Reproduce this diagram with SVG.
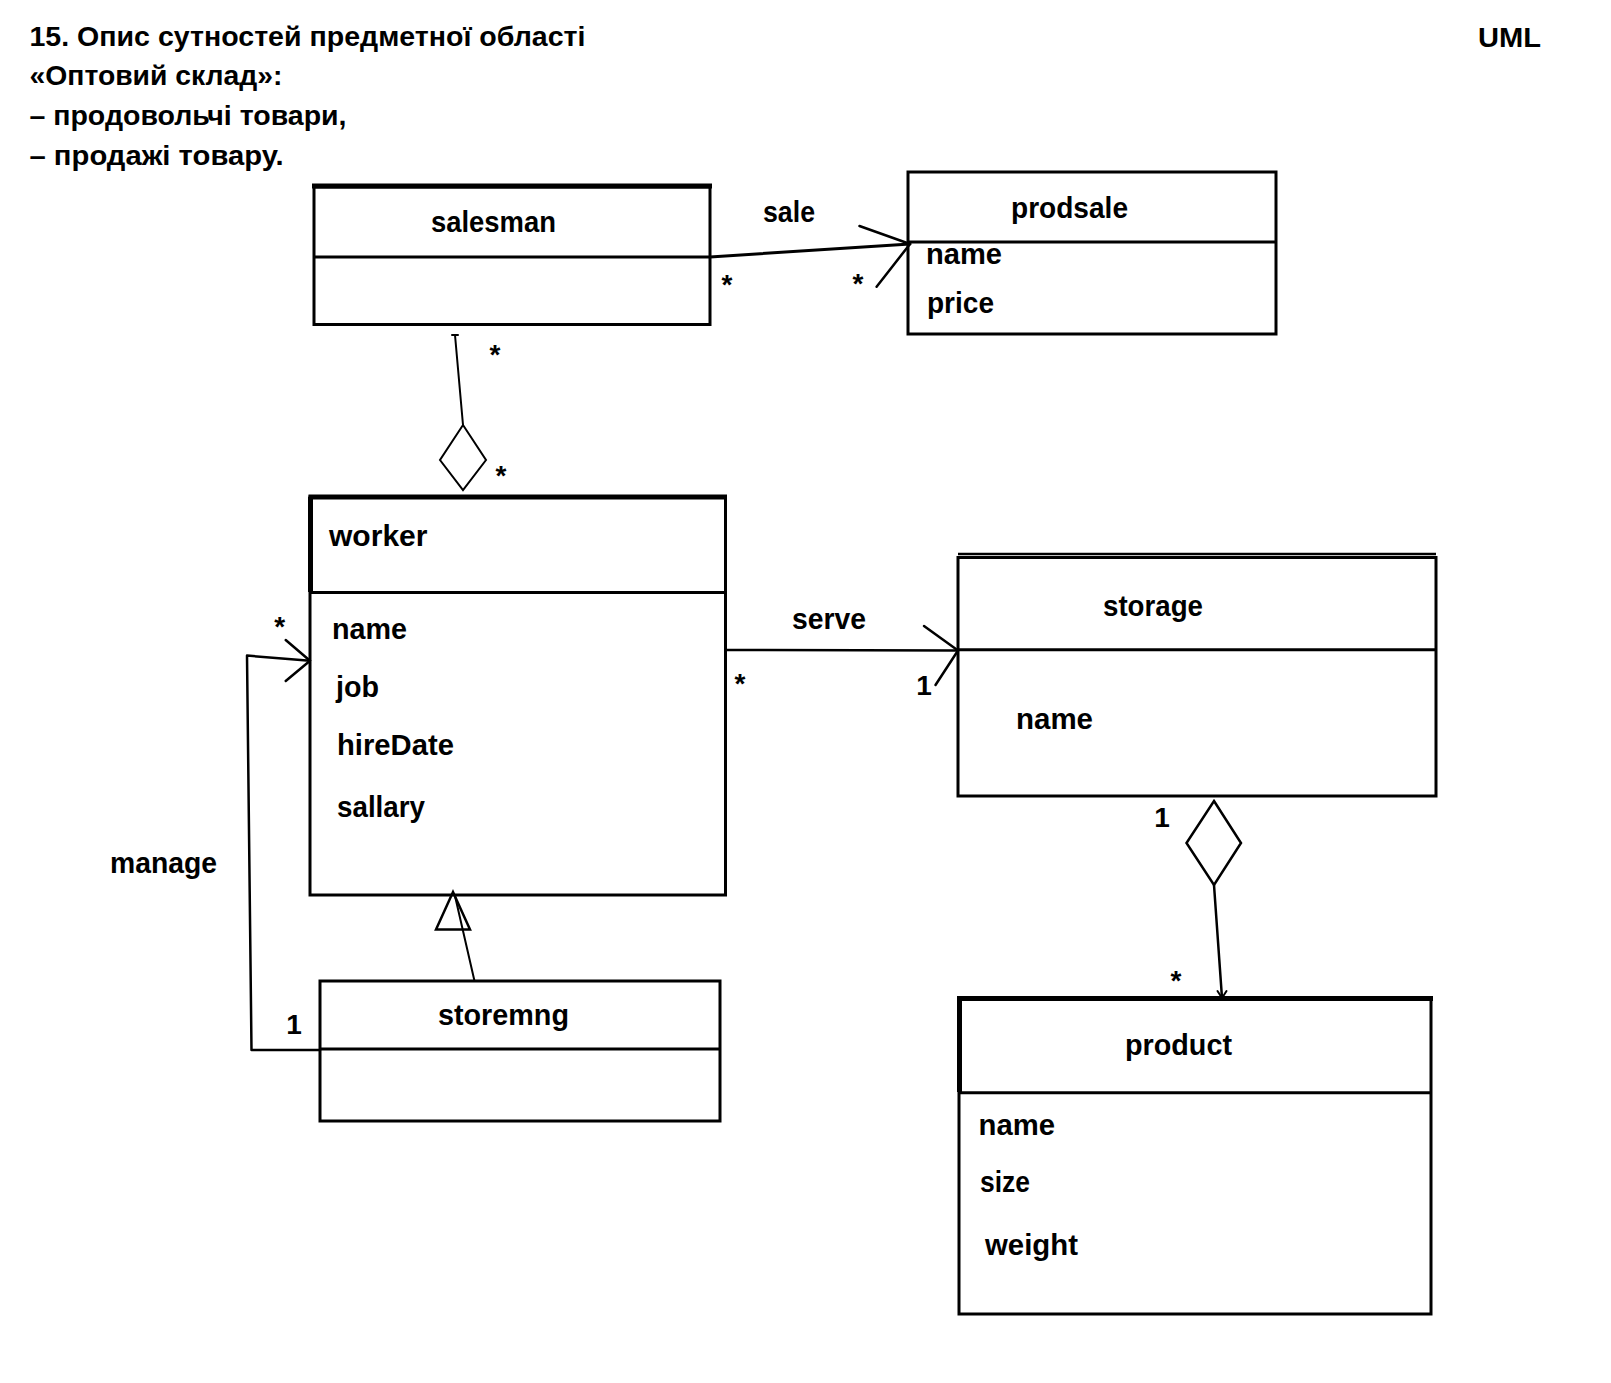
<svg xmlns="http://www.w3.org/2000/svg" width="1611" height="1383" viewBox="0 0 1611 1383">
<style>
text{font-family:"Liberation Sans",Arial,sans-serif;font-weight:bold;fill:#000}
.t{font-size:27px}
.n{font-size:29px}
.m{font-size:28px}
.one{font-size:28px}
.box{fill:none;stroke:#000;stroke-width:3}
.div{stroke:#000;stroke-width:3}
.thick{stroke:#000;stroke-width:5}
.c{fill:none;stroke:#000;stroke-width:2.5;stroke-linecap:round;stroke-linejoin:round}
.c2{fill:none;stroke:#000;stroke-width:2;stroke-linejoin:miter}
</style>
<rect width="1611" height="1383" fill="#fff"/>
<g id="title">
<text class="t" x="29.5" y="46" textLength="556" lengthAdjust="spacingAndGlyphs">15. Опис сутностей предметної області</text>
<text class="t" x="29.5" y="85" textLength="253" lengthAdjust="spacingAndGlyphs">«Оптовий склад»:</text>
<text class="t" x="29.5" y="125" textLength="317" lengthAdjust="spacingAndGlyphs">– продовольчі товари,</text>
<text class="t" x="29.5" y="165" textLength="254" lengthAdjust="spacingAndGlyphs">– продажі товару.</text>
<text class="t" x="1478" y="47" textLength="63" lengthAdjust="spacingAndGlyphs">UML</text>
</g>
<g id="connectors">
<g id="sale">
<line class="c" x1="710" y1="257" x2="910" y2="244" style="stroke-width:3"/>
<polyline class="c" points="859.5,226 910,244 876.6,286.7"/>
<text class="n" x="763" y="222" textLength="52" lengthAdjust="spacingAndGlyphs">sale</text>
<text class="m" x="727" y="294" text-anchor="middle">*</text>
<text class="m" x="858" y="293" text-anchor="middle">*</text>
</g>
<g id="salesman-worker">
<line class="c" x1="455" y1="335" x2="463" y2="425" style="stroke-width:2"/>
<line class="c" x1="452" y1="335" x2="458" y2="335" style="stroke-width:2"/>
<polygon class="c2" points="463,425 486,460 463,490 440,460"/>
<text class="m" x="495" y="364" text-anchor="middle">*</text>
<text class="m" x="501" y="485" text-anchor="middle">*</text>
</g>
<g id="serve">
<line class="c" x1="726" y1="650" x2="958" y2="650.5"/>
<polyline class="c" points="924,626 958,650.5 935.5,685"/>
<text class="n" x="792" y="629" textLength="74" lengthAdjust="spacingAndGlyphs">serve</text>
<text class="m" x="740" y="693" text-anchor="middle">*</text>
<text class="one" x="924" y="695" text-anchor="middle">1</text>
</g>
<g id="manage">
<polyline class="c" points="310,660.7 247,655.6 251.5,1050 320,1050"/>
<polyline class="c" points="285.7,640 310,660.7 285.7,681"/>
<text class="n" x="110" y="873" textLength="107" lengthAdjust="spacingAndGlyphs">manage</text>
<text class="m" x="279.6" y="636" text-anchor="middle">*</text>
<text class="one" x="294" y="1034" text-anchor="middle">1</text>
</g>
<g id="generalization">
<line class="c" x1="474.5" y1="981" x2="455" y2="896" style="stroke-width:2"/>
<polygon class="c2" points="453,892 470,929.6 436,929.6" style="stroke-width:2.5"/>
</g>
<g id="storage-product">
<polygon class="c2" points="1214,801 1241,843 1214,885 1186.5,843" style="stroke-width:2.5"/>
<line class="c" x1="1214" y1="885" x2="1222" y2="998" style="stroke-width:2.5"/>
<polyline class="c" points="1217.5,991 1222,998 1226.5,991" style="stroke-width:2"/>
<text class="one" x="1162" y="827" text-anchor="middle">1</text>
<text class="m" x="1176" y="990" text-anchor="middle">*</text>
</g>
</g>
<g id="salesman">
<rect class="box" x="314" y="187" width="396" height="137.5"/>
<line class="thick" x1="312" y1="186" x2="712" y2="186"/>
<line class="div" x1="314" y1="257" x2="710" y2="257"/>
<text class="n" x="431" y="232" textLength="125" lengthAdjust="spacingAndGlyphs">salesman</text>
</g>
<g id="prodsale">
<rect class="box" x="908" y="172" width="368" height="162"/>
<line class="div" x1="908" y1="242" x2="1276" y2="242"/>
<text class="n" x="1011" y="218" textLength="117" lengthAdjust="spacingAndGlyphs">prodsale</text>
<text class="n" x="926" y="264" textLength="76" lengthAdjust="spacingAndGlyphs">name</text>
<text class="n" x="927" y="313" textLength="67" lengthAdjust="spacingAndGlyphs">price</text>
</g>
<g id="worker">
<rect class="box" x="310" y="497" width="415.5" height="398"/>
<line class="thick" x1="308.5" y1="497" x2="727" y2="497"/>
<line class="div" x1="310" y1="592.6" x2="725.5" y2="592.6"/>
<line class="thick" x1="310.5" y1="497" x2="310.5" y2="592"/>
<text class="n" x="329" y="546" textLength="98.5" lengthAdjust="spacingAndGlyphs">worker</text>
<text class="n" x="332" y="639" textLength="75" lengthAdjust="spacingAndGlyphs">name</text>
<text class="n" x="336" y="697" textLength="43" lengthAdjust="spacingAndGlyphs">job</text>
<text class="n" x="337" y="755" textLength="117" lengthAdjust="spacingAndGlyphs">hireDate</text>
<text class="n" x="337" y="817" textLength="88" lengthAdjust="spacingAndGlyphs">sallary</text>
</g>
<g id="storage">
<rect class="box" x="958" y="557.5" width="478" height="238.5"/>
<line class="div" x1="958" y1="554" x2="1436" y2="554" style="stroke-width:2.5"/>
<line class="div" x1="958" y1="649.7" x2="1436" y2="649.7"/>
<text class="n" x="1103" y="616" textLength="100" lengthAdjust="spacingAndGlyphs">storage</text>
<text class="n" x="1016" y="729" textLength="77" lengthAdjust="spacingAndGlyphs">name</text>
</g>
<g id="storemng">
<rect class="box" x="320" y="981" width="400" height="140"/>
<line class="div" x1="320" y1="1049" x2="720" y2="1049"/>
<text class="n" x="438" y="1025" textLength="131" lengthAdjust="spacingAndGlyphs">storemng</text>
</g>
<g id="product">
<rect class="box" x="959" y="998.6" width="472" height="315.4"/>
<line class="thick" x1="957" y1="998.6" x2="1433" y2="998.6"/>
<line class="thick" x1="959.5" y1="998" x2="959.5" y2="1092"/>
<line class="div" x1="959" y1="1092.7" x2="1431" y2="1092.7"/>
<text class="n" x="1125" y="1054.5" textLength="107" lengthAdjust="spacingAndGlyphs">product</text>
<text class="n" x="978.5" y="1134.5" textLength="76.5" lengthAdjust="spacingAndGlyphs">name</text>
<text class="n" x="980" y="1192" textLength="50" lengthAdjust="spacingAndGlyphs">size</text>
<text class="n" x="985" y="1255" textLength="93" lengthAdjust="spacingAndGlyphs">weight</text>
</g>
</svg>
